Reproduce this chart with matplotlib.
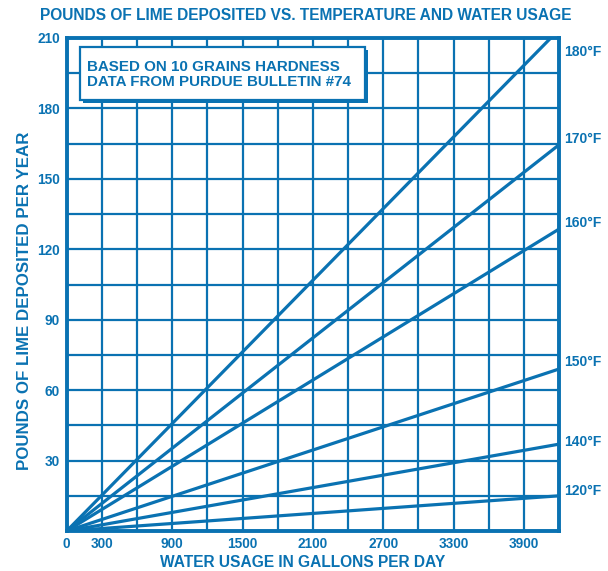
import matplotlib
matplotlib.use("Agg")
import matplotlib.pyplot as plt
import matplotlib.patheffects as pe
from matplotlib.patches import Rectangle

blue = "#0a72b2"
plt.rcParams["font.family"] = ["Liberation Sans", "DejaVu Sans"]
plt.rcParams["font.weight"] = "bold"

# water usage (gallons/day) and lime deposited (lb/year) at each line end
temps = ["120°F", "140°F", "150°F", "160°F", "170°F", "180°F"]
x_end = [4200, 4200, 4200, 4200, 4200, 4130]
y_end = [15, 37, 69, 128.6, 164.5, 210]
label_y = [17, 38, 72, 131, 167, 204]

xticks = list(range(0, 4201, 300))
xlabels = ["0", "300", "", "900", "", "1500", "", "2100", "", "2700", "", "3300", "", "3900", ""]
yticks = list(range(0, 211, 15))
ylabels = ["" if v % 30 or v == 0 else str(v) for v in yticks]

fig = plt.figure(figsize=(6.08, 5.71), dpi=100)
ax = fig.add_axes([0.1097, 0.07, 0.8097, 0.8635])

for xe, ye in zip(x_end, y_end):
    ax.plot([0, xe], [0, ye], color=blue, lw=2.3, solid_capstyle="butt", zorder=3)

for t, ly in zip(temps, label_y):
    ax.annotate(t, (4200, ly), xytext=(4, 0), textcoords="offset points",
                va="center", ha="left", color=blue, fontsize=10, annotation_clip=False)

ax.set_xlim(0, 4200)
ax.set_ylim(0, 210)
ax.set_xticks(xticks)
ax.set_xticklabels(xlabels)
ax.set_yticks(yticks)
ax.set_yticklabels(ylabels)
ax.tick_params(length=0, colors=blue, labelsize=9.8, pad=4)
ax.tick_params(axis="y", pad=5)
ax.grid(True, color=blue, lw=1.6)
ax.set_axisbelow(True)
for s in ax.spines.values():
    s.set_color(blue)
    s.set_linewidth(2.8)

fig.text(0.503, 0.972, "POUNDS OF LIME DEPOSITED VS. TEMPERATURE AND WATER USAGE",
         ha="center", va="center", color=blue, fontsize=11.2)
fig.text(0.498, 0.015, "WATER USAGE IN GALLONS PER DAY", ha="center", va="center",
         color=blue, fontsize=11.2)
fig.text(0.041, 0.473, "POUNDS OF LIME DEPOSITED PER YEAR", ha="center", va="center",
         rotation=90, color=blue, fontsize=12.2)

# note box with drop shadow
note = Rectangle((0.027, 0.874), 0.579, 0.108, transform=ax.transAxes,
                 fc="white", ec=blue, lw=1.6, zorder=5)
note.set_path_effects([pe.SimplePatchShadow(offset=(2.2, -2.2), shadow_rgbFace=blue, alpha=1),
                       pe.Normal()])
ax.add_patch(note)
ax.text(0.041, 0.926, "BASED ON 10 GRAINS HARDNESS\nDATA FROM PURDUE BULLETIN #74",
        transform=ax.transAxes, ha="left", va="center", color=blue, fontsize=10.9,
        linespacing=1.1, zorder=6)

fig.savefig("out.png", dpi=100)
